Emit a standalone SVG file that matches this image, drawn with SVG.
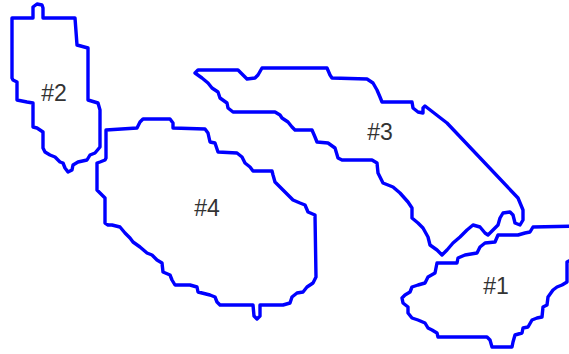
<svg xmlns="http://www.w3.org/2000/svg" width="569" height="354" viewBox="0 0 569 354">
<style>
.region{fill:none;stroke:#0000ff;stroke-width:3.4;stroke-linejoin:round;stroke-linecap:round}
.lbl{font-family:"Liberation Sans",Arial,sans-serif;font-size:23px;fill:#333;text-anchor:middle}
</style>
<rect width="569" height="354" fill="#fff"/>
<g id="node2">
<path class="region" d="M12,18 L33,18 L33,7 L37,4 L42,5 L43,8 L43,18 L75,18 L77,45 L88,48 L88,100 L98,103 L100,110 L100,147 L95,153 L90,155 L87,160 L78,162 L73,165 L72,170 L68,172 L65,168 L63,163 L60,162 L55,157 L50,155 L45,152 L43,148 L43,132 L37,128 L33,127 L33,103 L27,102 L17,100 L17,82 L13,80 L12,78 Z"/>
<text class="lbl" x="54" y="101">#2</text>
</g>
<g id="node4">
<path class="region" d="M106,130 L137,128 L140,122 L143,119 L170,119 L173,123 L173,128 L205,129 L208,133 L210,142 L215,143 L218,152 L237,153 L242,157 L245,163 L250,167 L253,171 L272,171 L273,175 L275,182 L280,187 L290,197 L293,200 L300,203 L305,205 L308,212 L315,215 L316,277 L313,283 L307,287 L303,292 L297,293 L292,297 L290,303 L283,305 L260,305 L260,316 L257,319 L254,316 L253,305 L220,305 L217,302 L215,297 L210,295 L198,292 L197,287 L190,285 L175,285 L172,280 L170,275 L163,272 L162,263 L157,260 L152,255 L147,253 L140,247 L133,242 L130,238 L125,233 L120,227 L112,225 L108,225 L105,223 L105,198 L100,193 L97,190 L97,163 L100,162 L105,160 L106,158 Z"/>
<text class="lbl" x="207" y="216">#4</text>
</g>
<g id="node3">
<path class="region" d="M198,70 L238,70 L243,75 L247,79 L255,78 L258,75 L262,68 L327,68 L330,75 L332,78 L367,79 L373,83 L377,90 L380,97 L382,102 L412,102 L413,108 L418,112 L423,113 L423,108 L425,106 L447,123 L518,198 L523,210 L523,220 L520,225 L515,223 L513,215 L510,212 L503,213 L500,218 L498,225 L493,230 L488,235 L485,233 L480,227 L473,225 L467,230 L460,237 L453,243 L447,250 L442,255 L437,250 L430,245 L428,237 L423,228 L418,223 L412,218 L412,208 L408,202 L400,193 L393,187 L383,183 L378,173 L377,163 L372,160 L342,160 L338,158 L335,148 L328,143 L317,142 L315,137 L312,130 L295,130 L292,127 L288,122 L282,118 L280,115 L275,112 L233,112 L228,108 L227,103 L220,98 L218,92 L212,88 L208,83 L202,78 L195,73 Z"/>
<text class="lbl" x="380" y="140">#3</text>
</g>
<g id="node1">
<path class="region" d="M533,227 L580,226 L580,255 L567,262 L567,282 L562,285 L557,287 L553,290 L548,297 L547,305 L543,307 L542,317 L537,318 L532,320 L528,327 L523,328 L522,333 L515,335 L513,342 L512,347 L492,347 L490,340 L487,337 L438,337 L437,333 L432,330 L428,328 L425,323 L418,320 L412,318 L408,313 L408,307 L403,303 L402,298 L405,295 L410,292 L412,287 L418,285 L425,283 L428,277 L435,273 L437,263 L457,263 L458,258 L465,255 L477,253 L480,247 L485,243 L495,242 L498,235 L518,235 L525,233 L530,232 Z"/>
<text class="lbl" x="496" y="294">#1</text>
</g>
<g id="connectors"/>
</svg>
